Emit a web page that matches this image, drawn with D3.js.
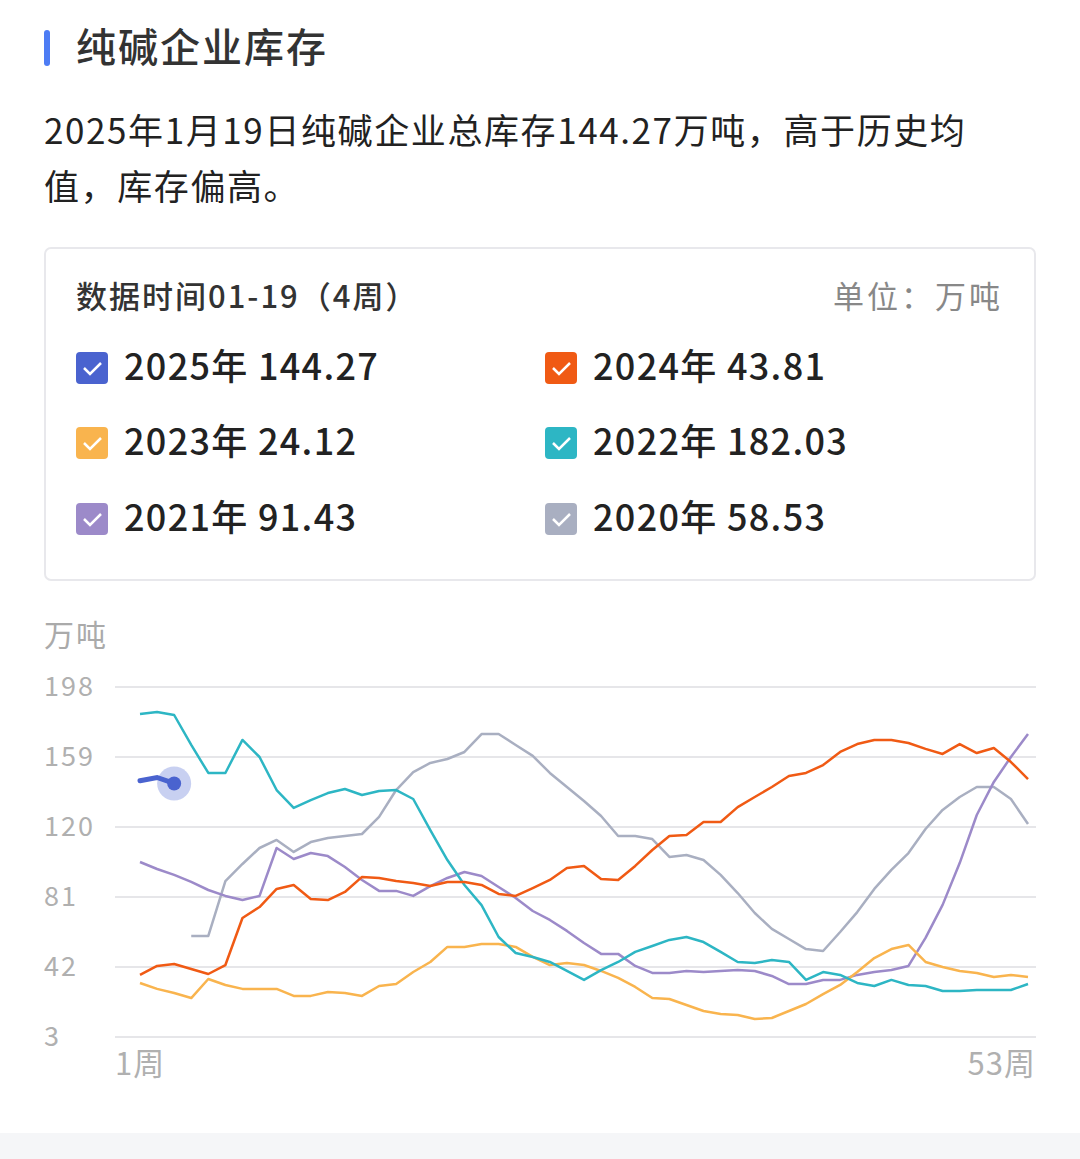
<!DOCTYPE html>
<html><head><meta charset="utf-8">
<script src="https://cdn.jsdelivr.net/npm/d3@7"></script>
<style>body{margin:0;background:#fff;font-family:"Noto Sans CJK SC","Noto Sans",sans-serif;}</style>
</head><body><svg id="c" width="1080" height="1159"></svg>
<script>
const weeks = d3.range(1,54);
const yTicks = [3,42,81,120,159,198];
const xLabels = ["1周","53周"];
const s2025 = [145.8,147.6,144.27];
const s2024 = [37.6,42.6,43.7,40.9,38.1,43.1,69.3,75.4,85.5,87.7,79.9,79.3,83.8,92.2,91.6,89.9,88.8,87.1,89.4,89.4,87.7,82.7,81.6,86.0,90.5,97.2,98.3,91.0,90.5,98.3,107.2,115.0,115.6,122.8,122.8,131.1,136.7,142.3,148.4,150.1,154.5,161.8,166.2,168.5,168.5,166.8,163.5,160.7,166.2,161.2,164.0,156.2,146.7];
const s2023 = [33.1,29.8,27.5,24.7,35.3,32.0,29.8,29.8,29.8,25.9,25.9,28.1,27.5,25.9,31.4,32.5,39.2,44.8,53.2,53.2,54.8,54.8,53.2,47.6,43.1,44.2,43.1,39.8,35.9,30.9,24.7,24.2,20.8,17.5,15.8,15.3,13.0,13.6,17.5,21.4,26.9,32.0,39.2,47.0,52.0,54.3,44.8,42.0,39.8,38.7,36.4,37.6,36.4];
const s2022 = [183.0,184.1,182.4,165.7,150.1,150.1,168.5,159.0,140.6,130.6,135.0,138.9,141.2,137.8,140.1,140.6,135.6,118.3,101.6,87.7,76.5,58.7,49.8,47.6,44.8,39.8,34.8,40.3,44.8,50.4,53.7,57.1,58.7,55.9,50.4,44.8,44.2,45.9,44.8,34.8,39.2,37.6,33.1,31.4,34.8,32.0,31.4,28.6,28.6,29.2,29.2,29.2,32.5];
const s2021 = [100.5,96.6,93.3,89.4,84.9,81.6,79.3,81.6,108.3,102.2,105.5,103.8,97.7,90.5,84.4,84.4,81.6,87.1,91.6,94.9,92.7,86.6,80.5,73.2,68.2,62.1,55.4,49.3,49.3,42.6,38.7,38.7,39.8,39.2,39.8,40.3,39.8,37.0,32.5,32.5,34.8,34.8,37.6,39.2,40.3,42.6,58.2,76.6,99.9,126.7,145.1,159.0,171.8];
const s2020 = [null,null,null,59.3,59.3,89.9,99.4,108.3,112.8,106.1,111.6,113.9,115.0,116.1,125.6,140.6,150.6,155.7,157.9,161.8,171.8,171.8,165.7,159.6,150.1,142.3,134.5,126.1,115.0,115.0,113.3,103.3,104.4,101.6,93.3,83.2,72.1,63.2,57.6,52.0,50.9,61.5,72.6,85.5,96.1,105.5,118.9,129.5,136.7,142.3,142.3,135.6,121.7];
const legendNames = ["2025年 144.27","2024年 43.81","2023年 24.12","2022年 182.03","2021年 91.43","2020年 58.53"];
const colors = ["#4a63cf","#f05a14","#f9b44e","#2db6c4","#9c8ac9","#a9afc1"];

const svg = d3.select("#c");
svg.append("rect").attr("x",44).attr("y",30).attr("width",6).attr("height",36).attr("rx",3).attr("fill","#4d7cf4");
svg.append("text").attr("x",76).attr("y",62).attr("font-size",40).attr("letter-spacing",2).attr("font-weight",500).attr("fill","#333").text("纯碱企业库存");
svg.append("text").attr("x",44).attr("y",144).attr("font-size",35).attr("letter-spacing",1.6).attr("fill","#222").text("2025年1月19日纯碱企业总库存144.27万吨，高于历史均");
svg.append("text").attr("x",44).attr("y",200).attr("font-size",35).attr("letter-spacing",1.6).attr("fill","#222").text("值，库存偏高。");
svg.append("rect").attr("x",45).attr("y",248).attr("width",990).attr("height",332).attr("rx",6).attr("fill","#fff").attr("stroke","#e8e8ec").attr("stroke-width",2);
svg.append("text").attr("x",76).attr("y",308).attr("font-size",31).attr("letter-spacing",2).attr("font-weight",500).attr("fill","#333").text("数据时间01-19（4周）");
svg.append("text").attr("x",1003).attr("y",308).attr("text-anchor","end").attr("font-size",31).attr("letter-spacing",3).attr("fill","#888").text("单位：万吨");
legendNames.forEach((n,i)=>{
  const cx = i%2===0?76:545, cy = [368,443,519][Math.floor(i/2)];
  svg.append("rect").attr("x",cx).attr("y",cy-16).attr("width",32).attr("height",32).attr("rx",4).attr("fill",colors[i]);
  svg.append("path").attr("d",`M${cx+8},${cy} l6,6 l11,-11`).attr("fill","none").attr("stroke","#fff").attr("stroke-width",2.5);
  svg.append("text").attr("x",cx+48).attr("y",cy+12).attr("font-size",36).attr("letter-spacing",1.3).attr("font-weight",500).attr("fill","#222").text(n);
});
const x = d3.scaleLinear().domain([1,53]).range([140,1028]);
const y = d3.scaleLinear().domain([3,198]).range([1037,687]);
svg.append("text").attr("x",44).attr("y",646).attr("font-size",30).attr("letter-spacing",2).attr("fill","#aaa").text("万吨");
yTicks.forEach(t=>{
  svg.append("line").attr("x1",115).attr("x2",1036).attr("y1",y(t)).attr("y2",y(t)).attr("stroke","#e6e6e9").attr("stroke-width",2);
  svg.append("text").attr("x",44).attr("y",y(t)+9).attr("font-size",27).attr("letter-spacing",2).attr("fill","#b0b0b0").text(t);
});
svg.append("text").attr("x",115).attr("y",1075).attr("font-size",31).attr("letter-spacing",1).attr("fill","#b0b0b0").text(xLabels[0]);
svg.append("text").attr("x",1036).attr("y",1075).attr("text-anchor","end").attr("font-size",31).attr("letter-spacing",1).attr("fill","#b0b0b0").text(xLabels[1]);
const line = d3.line().defined(d=>d!=null).x((d,i)=>x(weeks[i])).y(d=>y(d));
[[s2020,5],[s2021,4],[s2023,2],[s2022,3],[s2024,1]].forEach(([s,ci])=>{
  svg.append("path").attr("d",line(s)).attr("fill","none").attr("stroke",colors[ci]).attr("stroke-width",2.5).attr("stroke-linejoin","round");
});
svg.append("path").attr("d",line(s2025)).attr("fill","none").attr("stroke",colors[0]).attr("stroke-width",5).attr("stroke-linecap","round");
svg.append("circle").attr("cx",x(3)).attr("cy",y(s2025[2])).attr("r",17).attr("fill",colors[0]).attr("opacity",0.3);
svg.append("circle").attr("cx",x(3)).attr("cy",y(s2025[2])).attr("r",7).attr("fill",colors[0]);
svg.append("rect").attr("x",0).attr("y",1133).attr("width",1080).attr("height",26).attr("fill","#f5f6f8");
</script></body></html>
